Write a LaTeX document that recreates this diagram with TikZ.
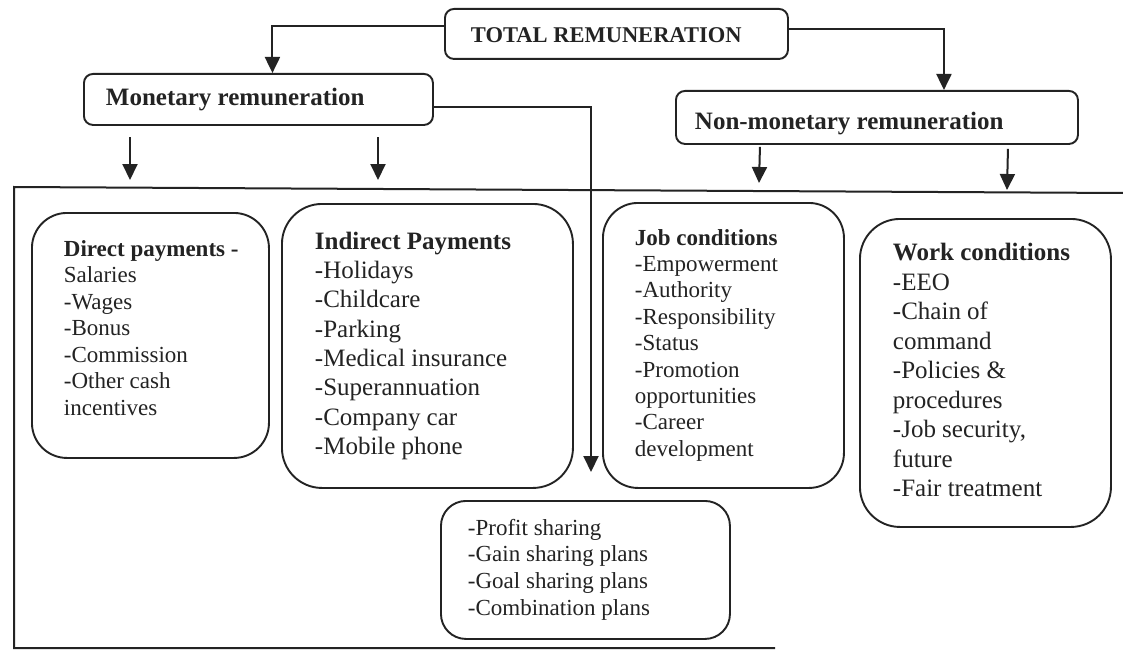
\documentclass[tikz,border=0pt]{standalone}
\usepackage{fontspec}
\setmainfont{Liberation Serif}
\usetikzlibrary{arrows.meta,calc}
\definecolor{ink}{HTML}{232323}
\newcommand\boxtxt[3]{\makebox[#1][l]{\hspace*{#2}\begin{tabular}{@{}l@{}}#3\end{tabular}}}
\begin{document}
\begin{tikzpicture}[x=1pt,y=-1pt,
  box/.style={draw=ink,line width=1.9pt,inner sep=0pt,anchor=north west,text=ink},
  topbox/.style={box,rounded corners=9pt,minimum height=52pt,font=\fontsize{25}{29}\selectfont\bfseries},
  arr/.style={draw=ink,line width=2pt,-{Triangle[length=16pt,width=15pt]}},
  frameline/.style={draw=ink,line width=2pt}]
\useasboundingbox[fill=white] (0,0) rectangle (1123,650);

% top level boxes
\node[topbox,minimum height=50pt,font=\fontsize{22.5}{26}\selectfont\bfseries] (total) at (444,8)
  {\boxtxt{343pt}{26pt}{TOTAL REMUNERATION}\rule{0pt}{25pt}};
\node[topbox,minimum height=51pt] (mon) at (83,73) {\boxtxt{349pt}{22pt}{Monetary remuneration}};
\node[topbox,minimum height=53pt] (nonmon) at (675,90) {\boxtxt{402pt}{19pt}{Non-monetary remuneration}\rule{0pt}{33pt}};

% frame
\draw[frameline] (1123,193) -- (14,187) -- (14,648) -- (775,648);

% inner boxes
\node[box,minimum height=245pt,rounded corners=35pt,font=\fontsize{23}{26.5}\selectfont] (direct) at (31,212)
  {\boxtxt{237pt}{32pt}{\textbf{Direct payments -}\\Salaries\\-Wages\\-Bonus\\-Commission\\-Other cash\\incentives}\rule[-97pt]{0pt}{1pt}};
\node[box,minimum height=284pt,rounded corners=40pt,font=\fontsize{25}{29.3}\selectfont] (indirect) at (281,203)
  {\boxtxt{291pt}{33pt}{\textbf{Indirect Payments}\\-Holidays\\-Childcare\\-Parking\\-Medical insurance\\-Superannuation\\-Company car\\-Mobile phone}};
\node[box,minimum height=285pt,rounded corners=35pt,font=\fontsize{23}{26.4}\selectfont] (job) at (602,202)
  {\boxtxt{241pt}{32pt}{\textbf{Job conditions}\\-Empowerment\\-Authority\\-Responsibility\\-Status\\-Promotion\\opportunities\\-Career\\development}};
\node[box,minimum height=308pt,rounded corners=40pt,font=\fontsize{25}{29.5}\selectfont] (work) at (859,218)
  {\boxtxt{251pt}{33pt}{\textbf{Work conditions}\\-EEO\\-Chain of\\command\\-Policies \&\\procedures\\-Job security,\\future\\-Fair treatment}};
\node[box,minimum height=138pt,rounded corners=25pt,font=\fontsize{23}{26.7}\selectfont] (profit) at (440,500)
  {\boxtxt{289pt}{27pt}{-Profit sharing\\-Gain sharing plans\\-Goal sharing plans\\-Combination plans}};

% connectors
\draw[arr] ($(total.west)+(0,-8)$) -| ($(mon.north)+(14,0)$);
\draw[arr] ($(total.east)+(0,-5)$) -| ($(nonmon.north)+(67,0)$);
\coordinate (ptip) at (591,472);
\draw[arr] ($(mon.east)+(0,8)$) -| (ptip);

\coordinate (ma1) at (130,137); \coordinate (mb1) at (130,180);
\coordinate (ma2) at (378,137); \coordinate (mb2) at (378,180);
\draw[arr] (ma1) -- (mb1);
\draw[arr] (ma2) -- (mb2);

\coordinate (nb1) at (759,183);
\coordinate (nb2) at (1007,190);
\draw[arr] ($(nonmon.south)+(-117,2)$) -- (nb1);
\draw[arr] ($(nonmon.south)+(131,4)$) -- (nb2);
\end{tikzpicture}
\end{document}
